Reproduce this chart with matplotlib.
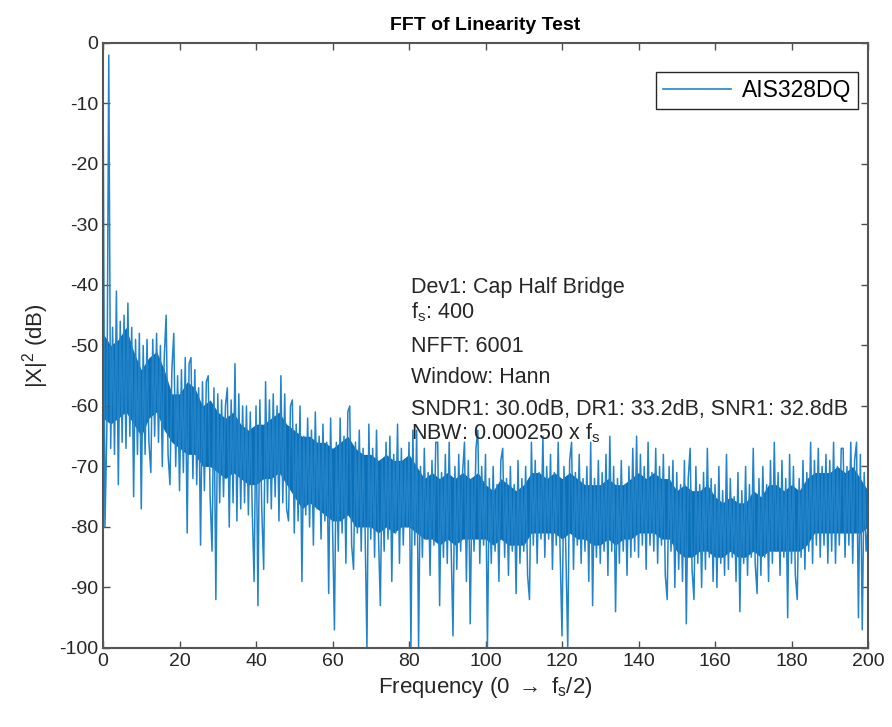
import matplotlib.pyplot as plt
import numpy as np

plt.rcParams['font.family'] = ['Liberation Sans', 'DejaVu Sans']
plt.rcParams['mathtext.fontset'] = 'custom'
plt.rcParams['mathtext.rm'] = 'Liberation Sans'
plt.rcParams['mathtext.it'] = 'Liberation Sans'
plt.rcParams['axes.unicode_minus'] = False

# FFT bins every 0.5 Hz, 0 -> fs/2
fs = 400
bin_step = 0.5
spectrum_db = [
    # 0 - 9.5 Hz
    -6, -80, -64, -2, -67, -47, -68, -41, -73, -46,
    -66, -45, -67, -43, -65, -47, -75, -49, -68, -48,
    # 10 - 19.5 Hz
    -77, -50, -68, -49, -66, -71, -49, -65, -48, -66,
    -50, -70, -52, -45, -68, -73, -54, -48, -70, -55,
    # 20 - 29.5 Hz
    -74, -54, -71, -52, -81, -53, -52, -72, -54, -73,
    -57, -83, -56, -74, -56, -55, -75, -84, -57, -92,
    # 30 - 39.5 Hz
    -58, -76, -59, -75, -60, -57, -80, -59, -76, -53,
    -79, -58, -77, -60, -76, -60, -78, -61, -77, -89,
    # 40 - 49.5 Hz
    -60, -93, -59, -77, -87, -56, -76, -59, -77, -58,
    -75, -60, -79, -55, -76, -58, -77, -79, -60, -59,
    # 50 - 59.5 Hz
    -81, -63, -79, -60, -89, -65, -78, -62, -80, -64,
    -83, -61, -77, -65, -82, -63, -79, -66, -91, -62,
    # 60 - 69.5 Hz
    -80, -97, -66, -84, -62, -81, -65, -86, -61, -60,
    -83, -87, -66, -81, -64, -84, -67, -80, -100, -63,
    # 70 - 79.5 Hz
    -82, -67, -85, -64, -81, -93, -69, -84, -66, -82,
    -65, -89, -68, -81, -63, -86, -67, -83, -69, -80,
    # 80 - 89.5 Hz
    -66, -100, -64, -83, -64, -100, -70, -85, -67, -82,
    -71, -88, -69, -83, -66, -66, -93, -71, -85, -68,
    # 90 - 99.5 Hz
    -86, -66, -83, -98, -70, -87, -68, -84, -71, -66,
    -89, -69, -96, -72, -84, -67, -64, -86, -70, -83,
    # 100 - 109.5 Hz
    -68, -100, -72, -86, -70, -84, -73, -89, -69, -67,
    -85, -72, -88, -70, -84, -73, -91, -69, -86, -72,
    # 110 - 119.5 Hz
    -84, -70, -88, -92, -66, -83, -69, -86, -71, -82,
    -65, -85, -70, -82, -68, -87, -71, -83, -66, -84,
    # 120 - 129.5 Hz
    -98, -70, -84, -100, -69, -66, -87, -71, -83, -68,
    -86, -72, -84, -70, -89, -66, -93, -72, -85, -69,
    # 130 - 139.5 Hz
    -86, -71, -84, -68, -88, -65, -84, -70, -94, -72,
    -86, -69, -84, -73, -88, -70, -85, -67, -84, -65,
    # 140 - 149.5 Hz
    -85, -68, -83, -70, -87, -66, -83, -71, -84, -67,
    -86, -70, -83, -68, -88, -92, -70, -84, -69, -90,
    # 150 - 159.5 Hz
    -71, -87, -73, -89, -69, -96, -72, -67, -87, -92,
    -70, -86, -73, -90, -71, -87, -67, -85, -72, -89,
    # 160 - 169.5 Hz
    -73, -90, -70, -86, -74, -88, -68, -87, -72, -85,
    -75, -89, -71, -94, -74, -86, -70, -88, -73, -85,
    # 170 - 179.5 Hz
    -67, -86, -91, -72, -88, -70, -85, -73, -89, -69,
    -86, -66, -84, -71, -88, -69, -85, -72, -95, -68,
    # 180 - 189.5 Hz
    -86, -70, -88, -92, -72, -85, -69, -87, -71, -84,
    -66, -86, -69, -83, -67, -85, -70, -83, -68, -86,
    # 190 - 200 Hz
    -69, -84, -66, -86, -70, -83, -67, -67, -85, -70,
    -83, -66, -86, -69, -66, -95, -68, -97, -71, -84,
    -80,
]

# dense part of the noise floor, upper and lower edge every 2 Hz
band_step = 2
band_top_db = [
    -48, -50, -49, -47, -51, -54, -52, -51, -54, -58,
    -58, -56, -57, -60, -59, -61, -62, -61, -63, -64,
    -63, -63, -62, -61, -63, -64, -65, -65, -66, -66,
    -67, -66, -65, -67, -68, -68, -69, -68, -69, -69,
    -68, -70, -72, -71, -72, -71, -72, -71, -72, -71,
    -73, -74, -72, -73, -74, -73, -71, -71, -72, -71,
    -72, -71, -72, -73, -73, -73, -72, -73, -73, -72,
    -71, -72, -71, -72, -72, -74, -73, -74, -74, -73,
    -75, -76, -75, -76, -76, -74, -75, -73, -73, -74,
    -73, -74, -72, -71, -71, -71, -70, -71, -70, -72,
    -74,
]
band_bottom_db = [
    -62, -63, -62, -61, -63, -65, -62, -61, -64, -66,
    -67, -68, -68, -70, -70, -71, -72, -71, -72, -73,
    -73, -72, -72, -71, -73, -75, -77, -76, -77, -78,
    -79, -79, -78, -80, -80, -80, -81, -80, -81, -80,
    -80, -81, -82, -82, -83, -82, -83, -82, -82, -82,
    -82, -83, -82, -83, -83, -83, -81, -81, -81, -81,
    -82, -81, -82, -82, -83, -83, -82, -83, -82, -82,
    -81, -81, -81, -82, -82, -84, -85, -85, -84, -84,
    -85, -85, -84, -85, -85, -84, -85, -84, -84, -84,
    -84, -84, -83, -81, -81, -81, -81, -81, -81, -81,
    -80,
]

series_name = 'AIS328DQ'
info_lines = [
    'Dev1: Cap Half Bridge',
    r'f$_\mathregular{s}$: 400',
    'NFFT: 6001',
    'Window: Hann',
    'SNDR1: 30.0dB, DR1: 33.2dB, SNR1: 32.8dB',
    r'NBW: 0.000250 x f$_\mathregular{s}$',
]
info_y = [-41.3, -45.5, -51.1, -56.2, -61.5, -65.6]

freq = np.arange(len(spectrum_db)) * bin_step
band_freq = np.arange(len(band_top_db)) * band_step

fig = plt.figure(figsize=(8.92, 7.27), dpi=100)
ax = fig.add_axes([0.1155, 0.1087, 0.8576, 0.8322])

ax.fill_between(band_freq, band_bottom_db, band_top_db, color='#0B70B7', lw=0)
ax.plot(freq, spectrum_db, color='#2283C8', lw=1.1, label=series_name)

ax.set_xlim(0, fs / 2)
ax.set_ylim(-100, 0)
ax.set_xticks(np.arange(0, 201, 20))
ax.set_yticks(np.arange(-100, 1, 10))

txt = '#262626'
for s in ax.spines.values():
    s.set_color('#555555')
    s.set_linewidth(1.5)
ax.tick_params(direction='in', length=5, width=1, colors='#4d4d4d',
               labelcolor=txt, labelsize=14, top=True, right=True)

ax.set_title('FFT of Linearity Test', fontsize=14, fontweight='bold',
             color='black', pad=9)
ax.set_xlabel(r'Frequency (0 $\rightarrow$ f$_\mathregular{s}$/2)', fontsize=16,
              color=txt, labelpad=4)
ax.set_ylabel(r'|X|$^\mathregular{2}$ (dB)', fontsize=16, color=txt, labelpad=6)

for line, y in zip(info_lines, info_y):
    ax.text(80.5, y, line, fontsize=15.5, color=txt, va='baseline', ha='left',
            clip_on=False)

leg = ax.legend(loc='upper right', bbox_to_anchor=(0.987, 0.952),
                borderaxespad=0, fontsize=16.5, frameon=True, fancybox=False,
                edgecolor='#262626', framealpha=1, handlelength=3.0,
                borderpad=0.3, handletextpad=0.45)
leg.get_frame().set_linewidth(1.0)
leg.get_lines()[0].set_linewidth(1.2)

fig.savefig('out.png', dpi=100)
